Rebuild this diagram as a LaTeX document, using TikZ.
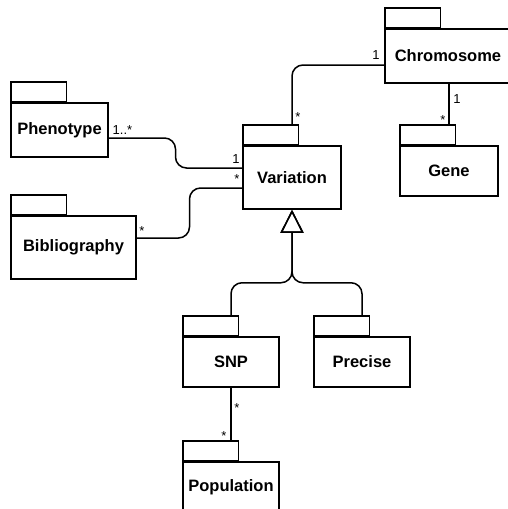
\documentclass[tikz,border=0pt]{standalone}
\usepackage{fontspec}
\setmainfont{Liberation Sans}
\usetikzlibrary{arrows.meta,calc}

\begin{document}
\begin{tikzpicture}[x=1pt,y=-1pt,
  pkg/.style={draw, line width=1.5pt, rectangle, inner sep=0pt,
    font=\fontsize{16.5}{19}\selectfont\bfseries},
  pkgtab/.style={draw, line width=1.5pt, rectangle, inner sep=0pt,
    minimum width=55.5pt, minimum height=19.5pt, anchor=south west},
  assoc/.style={line width=1.5pt, rounded corners=11pt},
  gen/.style={assoc, -{Triangle[open,length=23pt,width=23pt]}},
  mult/.style={font=\fontsize{13}{15}\selectfont, inner sep=0pt, anchor=base}]

\useasboundingbox (0,0) rectangle (508,509);
\clip (0,0) rectangle (508,509);

% packages: body with its name, tab on top-left corner
\node[pkg, minimum width=126pt, minimum height=54pt] (chr) at (448,56) {Chromosome};
\node[pkgtab] (chrtab) at (chr.north west) {};

\node[pkg, minimum width=97pt, minimum height=54pt] (phe) at (59.5,130) {Phenotype};
\node[pkgtab] (phetab) at (phe.north west) {};

\node[pkg, minimum width=98pt, minimum height=63pt] (var) at (292,177.5) {Variation};
\node[pkgtab] (vartab) at (var.north west) {};

\node[pkg, minimum width=98pt, minimum height=50pt] (gene) at (449,171) {Gene};
\node[pkgtab] (genetab) at (gene.north west) {};

\node[pkg, minimum width=125pt, minimum height=63pt] (bib) at (73.5,247.5) {Bibliography};
\node[pkgtab] (bibtab) at (bib.north west) {};

\node[pkg, minimum width=96pt, minimum height=50pt] (snp) at (231,362) {SNP};
\node[pkgtab] (snptab) at (snp.north west) {};

\node[pkg, minimum width=96pt, minimum height=50pt] (pre) at (362,362) {Precise};
\node[pkgtab] (pretab) at (pre.north west) {};

\node[pkg, minimum width=96pt, minimum height=50pt] (pop) at (231,487) {Population};
\node[pkgtab] (poptab) at (pop.north west) {};

% associations
\draw[assoc] ([yshift=-9pt]chr.west) -| (var.north |- vartab.north);
\draw[assoc] (gene.north |- chr.south) -- (gene.north |- genetab.north);

\coordinate (pheA) at ([yshift=-8pt]phe.east);
\coordinate (varP) at ([yshift=9.5pt]var.west);
\coordinate (pheM) at ($(pheA)!.5!(varP)$);
\draw[assoc] (pheA) -| (pheM |- varP) -- (varP);

\coordinate (bibA) at ([yshift=9.5pt]bib.east);
\coordinate (varB) at ([yshift=-10.5pt]var.west);
\coordinate (bibM) at ($(bibA)!.5!(varB)$);
\draw[assoc] (bibA) -| (bibM |- varB) -- (varB);

\draw[assoc] (snp.south) -- (pop.north |- poptab.north);

% generalization
\coordinate (J) at ([yshift=-73pt]var.south);
\draw[gen] (snp.north |- snptab.north) |- (J) -- (var.south);
\draw[gen] (pre.north |- pretab.north) |- (J) -- (var.south);

% multiplicities
\node[mult] (m1) at (376,59) {1};
\node[mult] (m2) at (298,121) {*};
\node[mult] (m3) at (457,103) {1};
\node[mult] (m4) at (443,124) {*};
\node[mult] (m5) at (122.5,134) {1..*};
\node[mult] (m6) at (236,163) {1};
\node[mult] (m7) at (237,183) {*};
\node[mult] (m8) at (142,235) {*};
\node[mult] (m9) at (237,412) {*};
\node[mult] (m10) at (224,440) {*};
\end{tikzpicture}
\end{document}
